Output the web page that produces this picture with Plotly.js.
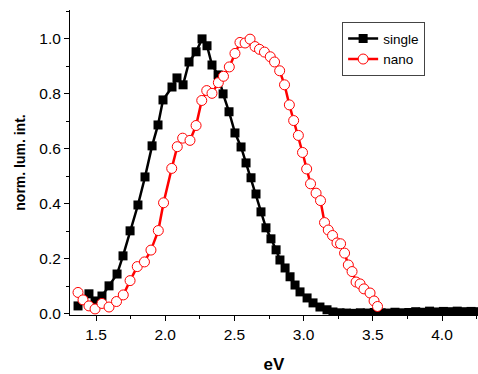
<!DOCTYPE html>
<html>
<head>
<meta charset="utf-8">
<script src="https://cdn.plot.ly/plotly-3.0.1.min.js"></script>
<style>html,body{margin:0;padding:0;background:#fff;}#chart{width:478px;height:374px;}</style>
</head>
<body>
<div id="chart"></div>
<script>
const singleX = [1.370,1.449,1.493,1.543,1.594,1.652,1.695,1.746,1.803,1.854,1.905,1.948,1.984,2.049,2.085,2.129,2.172,2.223,2.266,2.302,2.338,2.382,2.418,2.461,2.504,2.548,2.584,2.620,2.656,2.692,2.728,2.764,2.801,2.829,2.866,2.902,2.938,2.974,3.025,3.068,3.118,3.169,3.212,3.263,3.31,3.36,3.41,3.46,3.51,3.56,3.61,3.66,3.71,3.76,3.81,3.86,3.91,3.96,4.01,4.06,4.11,4.16,4.21,4.25];
const singleY = [0.029,0.073,0.047,0.065,0.102,0.145,0.211,0.302,0.396,0.498,0.611,0.687,0.778,0.825,0.858,0.833,0.916,0.953,1.000,0.975,0.905,0.869,0.800,0.735,0.658,0.607,0.549,0.495,0.436,0.371,0.313,0.273,0.233,0.196,0.167,0.135,0.105,0.080,0.058,0.040,0.025,0.015,0.007,0.004,0.003,0.002,0.004,0.003,0.005,0.004,0.003,0.006,0.004,0.005,0.008,0.006,0.010,0.007,0.009,0.008,0.010,0.008,0.009,0.008];
const nanoX = [1.370,1.406,1.449,1.493,1.543,1.594,1.648,1.697,1.746,1.798,1.850,1.897,1.950,1.988,2.047,2.087,2.126,2.179,2.223,2.264,2.300,2.338,2.384,2.421,2.463,2.504,2.540,2.577,2.613,2.649,2.681,2.717,2.759,2.790,2.827,2.862,2.897,2.928,2.962,2.992,3.022,3.050,3.090,3.122,3.151,3.178,3.209,3.241,3.267,3.296,3.323,3.350,3.379,3.408,3.436,3.480,3.509,3.534];
const nanoY = [0.078,0.051,0.029,0.018,0.038,0.025,0.045,0.069,0.121,0.172,0.189,0.232,0.303,0.404,0.529,0.608,0.639,0.631,0.685,0.776,0.812,0.802,0.841,0.864,0.898,0.947,0.987,0.985,0.999,0.972,0.962,0.952,0.935,0.916,0.884,0.833,0.760,0.703,0.649,0.587,0.527,0.473,0.439,0.412,0.332,0.305,0.285,0.258,0.255,0.221,0.178,0.154,0.116,0.109,0.091,0.076,0.047,0.027];
const seriesNames = ['single','nano'];
const xTitle = 'eV';
const yTitle = 'norm. lum. int.';

const fam = 'Liberation Sans, Arial, sans-serif';
const traces = [
  {x: singleX, y: singleY, name: seriesNames[0], type: 'scatter', mode: 'lines+markers',
   line: {color: '#000', width: 2.5}, marker: {symbol: 'square', size: 9, color: '#000'}},
  {x: nanoX, y: nanoY, name: seriesNames[1], type: 'scatter', mode: 'lines+markers',
   line: {color: '#ff0000', width: 2.5}, marker: {symbol: 'circle', size: 10, color: '#fff', line: {color: '#ff0000', width: 1}}}
];
const axisFont = {family: fam, size: 15.5, color: '#000'};
const layout = {
  width: 478, height: 374,
  margin: {l: 70, r: 0, t: 10, b: 59},
  paper_bgcolor: '#fff', plot_bgcolor: '#fff',
  font: axisFont,
  showlegend: true,
  legend: {x: 0.667, y: 0.96, xanchor: 'left', yanchor: 'top', bordercolor: '#444', borderwidth: 1,
           bgcolor: '#fff', font: {family: fam, size: 13.5, color: '#000'},
           tracegroupgap: 0, itemwidth: 30},
  xaxis: {range: [1.312, 4.26], showgrid: false, zeroline: false, showline: true, linecolor: '#000', linewidth: 1,
          ticks: 'outside', ticklen: 5, tickcolor: '#000', dtick: 0.5, tick0: 1.5, tickformat: '.1f',
          minor: {dtick: 0.25, tick0: 1.5, ticks: 'outside', ticklen: 3, tickcolor: '#000', showgrid: false},
          tickfont: axisFont,
          title: {text: xTitle, font: {family: fam, size: 17, color: '#000', weight: 'bold'}, standoff: 18}},
  yaxis: {range: [-0.004, 1.105], showgrid: false, zeroline: false, showline: true, linecolor: '#000', linewidth: 1,
          ticks: 'outside', ticklen: 5, tickcolor: '#000', dtick: 0.2, tick0: 0, tickformat: '.1f',
          minor: {dtick: 0.1, tick0: 0, ticks: 'outside', ticklen: 3, tickcolor: '#000', showgrid: false},
          tickfont: axisFont,
          title: {text: yTitle, font: {family: fam, size: 14, color: '#000', weight: 'bold'}, standoff: 10}}
};
Plotly.newPlot('chart', traces, layout, {displayModeBar: false, staticPlot: true});
</script>
</body>
</html>
